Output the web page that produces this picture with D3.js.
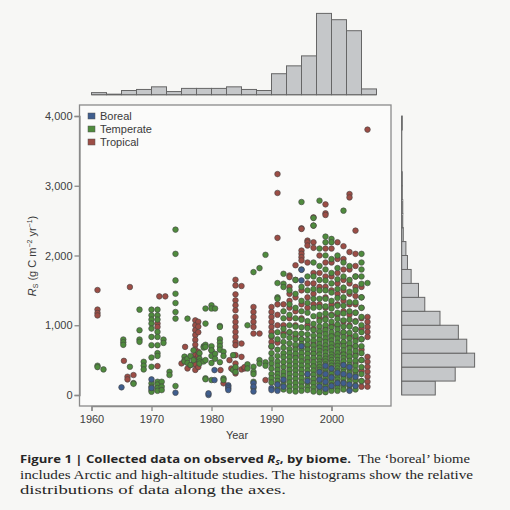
<!DOCTYPE html>
<html>
<head>
<meta charset="utf-8">
<script src="https://cdn.jsdelivr.net/npm/d3@7/dist/d3.min.js"></script>
<style>
  html, body { margin: 0; padding: 0; background: #f7f7f5; }
  svg { display: block; }
  .tick text { font-family: "Liberation Sans", Arial, sans-serif; font-size: 11px; fill: #404040; }
</style>
</head>
<body>
<svg id="chart" width="510" height="510"></svg>
<script>
// Annual soil respiration records: rows are [year, Rs value, Rs value, ...]
const borealRows = [
  [1965, 110], [1970, 224, 100], [1974, 33], [1979.5, 0, 24], [1980.5, 357, 214],
  [1982.8, 140, 119, 95, 71], [1987, 170, 120, 50], [1990, 100, 70], [1991, 150, 60],
  [1992, 220, 120], [1995, 1795, 1643, 700], [1996, 300, 200],
  [1998, 330, 220, 120], [1999, 420, 300, 190, 90],
  [2000, 380, 250, 130], [2001, 320, 170],
  [2002, 430, 300, 170], [2003, 400, 280, 150, 60],
  [2004, 260, 130]
];

const temperateRows = [
  [1961, 420, 400], [1962, 367], [1965.3, 796, 757, 719], [1966.4, 405], [1967, 171, 160],
  [1968, 1224, 929, 796, 762], [1968.7, 476, 420, 367],
  [1970, 1224, 1143, 1081, 1024, 952, 833, 714, 538, 405, 167, 119, 71, 47],
  [1971, 1224, 1143, 1081, 905, 833, 714, 600, 560, 190, 150, 100, 60],
  [1971.7, 190, 120, 70], [1972, 795, 747], [1973, 333, 286],
  [1974, 2371, 2024, 1643, 1452, 1319, 1190, 1095, 129],
  [1975.5, 550, 500, 480], [1976, 1095, 520, 460], [1976.5, 560, 430], [1977, 640, 500],
  [1978, 600, 520, 480, 450], [1978.7, 700, 680, 480],
  [1979, 1240, 1024, 720, 690, 500, 240, 225], [1980, 1286, 1240, 700, 640, 560, 460, 214],
  [1980.6, 1240, 590, 520], [1981.4, 990, 976, 800, 750, 700, 650, 470],
  [1982, 620, 560, 238, 214], [1983.6, 571, 360], [1984, 400, 330],
  [1986, 1000, 440, 380], [1987, 1762, 405, 333, 300, 190, 100], [1988, 1819, 500, 450],
  [1989, 2010, 470, 420],
  [1990, 850, 700, 600, 520, 450, 380, 300, 240, 180],
  [1991, 1605, 1400, 1380, 900, 800, 650, 560, 480, 420, 360, 300, 250, 200, 150, 90],
  [1992, 1738, 1595, 1548, 1200, 1100, 950, 850, 760, 680, 600, 540, 470, 400, 330, 270, 200, 140, 80],
  [1993, 1500, 1300, 1150, 1000, 900, 820, 740, 660, 600, 540, 480, 420, 360, 300, 240, 180, 120, 60],
  [1994, 1650, 1450, 1250, 1100, 980, 880, 800, 720, 650, 590, 530, 470, 410, 350, 290, 230, 170, 110, 50],
  [1995, 2767, 1800, 1550, 1350, 1200, 1080, 970, 880, 800, 730, 660, 600, 540, 480, 420, 360, 300, 240, 180, 120, 60],
  [1996, 1700, 1500, 1320, 1180, 1060, 960, 870, 790, 720, 650, 590, 530, 470, 410, 350, 290, 230, 170, 110, 70],
  [1997, 2538, 2429, 1900, 1700, 1520, 1380, 1250, 1130, 1020, 930, 850, 780, 710, 650, 590, 530, 470, 410, 350, 290, 230, 170, 110, 50],
  [1998, 2786, 2100, 1850, 1650, 1500, 1380, 1260, 1150, 1060, 980, 910, 850, 790, 730, 680, 630, 580, 530, 480, 440, 400, 360, 320, 280, 240, 200, 160, 120, 80, 40],
  [1999, 2271, 2190, 2000, 1800, 1640, 1500, 1380, 1270, 1170, 1080, 1000, 930, 870, 810, 760, 710, 660, 610, 560, 520, 480, 440, 400, 360, 320, 280, 240, 200, 160, 120, 80, 40],
  [2000, 2238, 2190, 1950, 1750, 1600, 1470, 1350, 1240, 1140, 1050, 970, 900, 840, 780, 730, 680, 630, 580, 540, 500, 460, 420, 380, 340, 300, 260, 220, 180, 140, 100, 60],
  [2001, 2000, 1820, 1660, 1520, 1390, 1280, 1180, 1090, 1010, 940, 870, 810, 750, 700, 650, 600, 550, 500, 460, 420, 380, 340, 300, 260, 220, 180, 140, 100, 60],
  [2002, 2643, 1900, 1700, 1540, 1400, 1280, 1170, 1070, 980, 900, 830, 760, 700, 640, 580, 530, 480, 430, 380, 330, 280, 230, 180, 130, 80],
  [2003, 1850, 1650, 1480, 1330, 1200, 1080, 980, 890, 810, 740, 670, 610, 550, 490, 430, 370, 310, 250, 190, 130, 70],
  [2004, 1700, 1500, 1330, 1180, 1050, 940, 850, 770, 700, 630, 560, 490, 420, 350, 280, 210, 140, 80],
  [2005, 2024, 1900, 1800, 1700, 1595, 1400, 1250, 1120, 1000, 900, 800, 700, 600, 500, 400, 300, 200],
  [2006, 1605]
];

const tropicalRows = [
  [1961, 1505, 1225, 1176, 1140], [1965.4, 490], [1966, 262, 224], [1966.4, 1548], [1967, 286],
  [1971, 1024, 976, 414], [1971.3, 1414], [1972.3, 1414],
  [1975, 452], [1975.6, 690], [1976, 381], [1976.5, 429],
  [1977.3, 1070, 1000, 930, 860, 790, 720, 650, 580, 510, 440, 360],
  [1977.8, 1050, 980, 900, 620, 560, 400],
  [1980, 640], [1981.5, 357], [1982, 167], [1983, 500], [1983.3, 381],
  [1984, 1652, 1571, 1443, 1357, 1286, 1214, 1119, 1048, 976, 905, 833, 762, 714, 571, 452, 381, 310],
  [1985, 1562, 738, 547, 367], [1985.5, 381, 400],
  [1987, 1262, 1190, 1119, 1048, 976, 881], [1988, 881], [1989, 214],
  [1990, 1262, 1190, 1119, 1048, 976, 905, 833, 760, 690],
  [1991, 3167, 2897, 2253, 1300, 1150, 1000, 750],
  [1992, 1300, 1000, 880],
  [1993, 1714, 1690, 1550, 1450, 1350, 1250, 1100, 900],
  [1994, 1860, 1650, 1400, 1200, 1000, 850, 700, 560],
  [1995, 2390, 2381, 2071, 2024, 1976, 1930, 1500, 1300, 1100, 800],
  [1996, 2214, 2190, 2143, 1900, 1600, 1400, 1250, 1000, 700, 500],
  [1997, 2547, 2429, 2190, 2110, 1750, 1600, 1450, 1300, 950, 750, 600, 420],
  [1998, 2000, 1750, 1550, 1300, 1100, 900, 700, 520, 380],
  [1999, 2733, 2605, 2581, 2100, 1900, 1700, 1550, 1400, 1250, 1100, 950, 800, 650, 500],
  [2000, 2100, 1900, 1700, 1500, 1300, 1150, 1000, 850, 700, 560],
  [2001, 2190, 1950, 1750, 1600, 1450, 1300, 1150, 1000, 870, 730, 600, 450],
  [2002, 2133, 1950, 1800, 1650, 1500, 1350, 1200, 1050, 900, 750, 600],
  [2003, 2881, 2833, 2050, 1800, 1600, 1450, 1300, 1150, 1000, 850, 700, 550, 400],
  [2004, 2357, 2024, 1850, 1700, 1550, 1420, 1300, 1180, 1060, 940, 820, 700, 580, 460, 340, 220],
  [2005, 1550, 1400, 1250, 1100, 950, 800, 650, 500, 350, 200, 120],
  [2006, 3805, 1119, 1048, 976, 905, 833, 547, 476, 405, 333, 262, 190, 119]
];

// Marginal histogram counts
const yearBinStarts = [1960, 1962.5, 1965, 1967.5, 1970, 1972.5, 1975, 1977.5, 1980, 1982.5,
                       1985, 1987.5, 1990, 1992.5, 1995, 1997.5, 2000, 2002.5, 2005];
const yearCounts = [4, 1, 8, 10, 15, 6, 12, 12, 12, 15, 10, 8, 40, 55, 74, 155, 143, 122, 11];
const rsBinStarts = [0, 200, 400, 600, 800, 1000, 1200, 1400, 1600, 1800,
                     2000, 2200, 2400, 2600, 2800, 3000, 3200, 3400, 3600, 3800];
const rsCounts = [64, 102, 139, 124, 108, 73, 44, 32, 18, 11, 8, 3, 2, 2, 1, 1, 0, 0, 0, 1];

const yTicks = [0, 1000, 2000, 3000, 4000];
const xTicks = [1960, 1970, 1980, 1990, 2000];

const biomes = ["Boreal", "Temperate", "Tropical"];
const biomeColors = ["#3f5e8e", "#4f8b3d", "#9c4d45"];

const svg = d3.select("#chart");
const font = '"Liberation Sans", Arial, sans-serif';

// Main plot box
const box = { left: 79.5, right: 391, top: 105, bottom: 406 };
const x = d3.scaleLinear().domain([1960, 2000]).range([91.5, 331.5]);
const y = d3.scaleLinear().domain([0, 4000]).range([395, 116]);
const hist = d3.scaleLinear().domain([0, 155]).range([0, 81.3]);

// Frame
svg.append("rect")
  .attr("x", box.left).attr("y", box.top)
  .attr("width", box.right - box.left).attr("height", box.bottom - box.top)
  .attr("fill", "#fbfbfa").attr("stroke", "#8a8a8a").attr("stroke-width", 1.3);

// Axes
const yAxis = svg.append("g").attr("transform", `translate(${box.left},0)`)
  .call(d3.axisLeft(y).tickValues(yTicks).tickFormat(d3.format(",")).tickSize(5).tickPadding(2));
const xAxis = svg.append("g").attr("transform", `translate(0,${box.bottom})`)
  .call(d3.axisBottom(x).tickValues(xTicks).tickFormat(d3.format("d")).tickSize(5).tickPadding(4));
[yAxis, xAxis].forEach(g => {
  g.select(".domain").attr("stroke", "#8a8a8a").attr("stroke-width", 1.3);
  g.selectAll(".tick line").attr("stroke", "#8a8a8a").attr("stroke-width", 1.3);
});

// Points
const flatten = rows => rows.flatMap(r => r.slice(1).map(v => ({ year: r[0], rs: v })));
const layers = [
  { data: flatten(tropicalRows), color: biomeColors[2] },
  { data: flatten(temperateRows), color: biomeColors[1] },
  { data: flatten(borealRows), color: biomeColors[0] }
];
const dots = svg.append("g");
layers.forEach(layer => {
  dots.append("g").selectAll("circle").data(layer.data).join("circle")
    .attr("cx", d => x(d.year)).attr("cy", d => y(d.rs)).attr("r", 2.8)
    .attr("fill", layer.color).attr("stroke", "#444").attr("stroke-width", 0.7)
    .attr("stroke-opacity", 0.85);
});

// Legend
const legend = svg.append("g");
biomes.forEach((b, i) => {
  const cy = 116 + i * 13;
  legend.append("rect").attr("x", 88).attr("y", cy - 3).attr("width", 7).attr("height", 6)
    .attr("fill", biomeColors[i]).attr("stroke", "#555").attr("stroke-width", 0.5);
  legend.append("text").attr("x", 100).attr("y", cy + 4)
    .attr("font-family", font).attr("font-size", 11).attr("fill", "#3a3a3a").text(b);
});

// Top histogram (year)
const topBase = 94.7;
svg.append("line").attr("x1", x(1960)).attr("x2", x(2007.5)).attr("y1", topBase).attr("y2", topBase)
  .attr("stroke", "#666").attr("stroke-width", 1.2);
svg.append("g").selectAll("rect").data(yearBinStarts).join("rect")
  .attr("x", d => x(d)).attr("width", d => x(d + 2.5) - x(d))
  .attr("y", (d, i) => topBase - hist(yearCounts[i]))
  .attr("height", (d, i) => hist(yearCounts[i]))
  .attr("fill", "#c5c7c9").attr("stroke", "#666").attr("stroke-width", 1);

// Right histogram (Rs)
const rightBase = 401.7;
svg.append("line").attr("x1", rightBase).attr("x2", rightBase).attr("y1", y(0)).attr("y2", y(4000))
  .attr("stroke", "#666").attr("stroke-width", 1.2);
svg.append("g").selectAll("rect").data(rsBinStarts).join("rect")
  .attr("x", rightBase).attr("width", (d, i) => hist(rsCounts[i]))
  .attr("y", d => y(d + 200)).attr("height", d => y(d) - y(d + 200))
  .attr("fill", "#c5c7c9").attr("stroke", "#666").attr("stroke-width", 1);

// Axis titles
svg.append("text").attr("x", 237).attr("y", 439).attr("text-anchor", "middle")
  .attr("font-family", font).attr("font-size", 11).attr("fill", "#3a3a3a").text("Year");

const yl = svg.append("text")
  .attr("transform", "translate(36,256) rotate(-90)").attr("text-anchor", "middle")
  .attr("font-family", font).attr("font-size", 11).attr("fill", "#3a3a3a");
yl.append("tspan").attr("font-style", "italic").text("R");
yl.append("tspan").attr("font-size", 7).attr("dy", 2).text("S");
yl.append("tspan").attr("dy", -2).text(" (g C m");
yl.append("tspan").attr("font-size", 7).attr("dy", -4).text("−2");
yl.append("tspan").attr("dy", 4).text(" yr");
yl.append("tspan").attr("font-size", 7).attr("dy", -4).text("−1");
yl.append("tspan").attr("dy", 4).text(")");

// Caption
const cap = svg.append("g").attr("fill", "#262626");
const l1 = cap.append("text").attr("x", 20).attr("y", 463)
  .attr("font-family", '"Open Sans", "DejaVu Sans", sans-serif').attr("font-weight", "bold")
  .attr("font-size", 11).attr("textLength", 331).attr("lengthAdjust", "spacingAndGlyphs");
l1.append("tspan").text("Figure 1 | Collected data on observed ");
l1.append("tspan").attr("font-style", "italic").text("R");
l1.append("tspan").attr("font-size", 7).attr("dy", 2).attr("font-style", "italic").text("S");
l1.append("tspan").attr("dy", -2).text(", by biome.");
const serif = '"Liberation Serif", "DejaVu Serif", serif';
cap.append("text").attr("x", 358).attr("y", 463).attr("font-family", serif).attr("font-size", 12.5)
  .attr("textLength", 112).attr("lengthAdjust", "spacingAndGlyphs").text("The ‘boreal’ biome");
cap.append("text").attr("x", 20).attr("y", 479).attr("font-family", serif).attr("font-size", 12.5)
  .attr("textLength", 453).attr("lengthAdjust", "spacingAndGlyphs")
  .text("includes Arctic and high-altitude studies. The histograms show the relative");
cap.append("text").attr("x", 20).attr("y", 494).attr("font-family", serif).attr("font-size", 12.5)
  .attr("textLength", 266).attr("lengthAdjust", "spacingAndGlyphs")
  .text("distributions of data along the axes.");
</script>
</body>
</html>
